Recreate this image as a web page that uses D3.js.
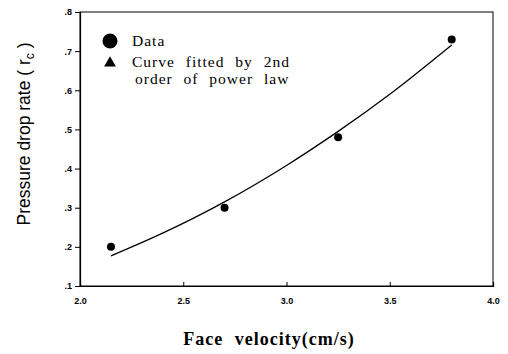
<!DOCTYPE html>
<html><head><meta charset="utf-8">
<script src="https://cdn.jsdelivr.net/npm/d3@7"></script>
<style>body{margin:0;background:#fff}</style>
</head><body>
<svg id="c" width="508" height="354"></svg>
<script>
const dataX = [2.15, 2.7, 3.25, 3.8];
const dataY = [0.20, 0.30, 0.48, 0.73];
const curveX = [2.15, 2.4, 2.7, 3.0, 3.25, 3.5, 3.8];
const curveY = [0.177, 0.235, 0.315, 0.408, 0.495, 0.590, 0.716];
const xTicks = [2.0, 2.5, 3.0, 3.5, 4.0];
const yTicks = [0.1, 0.2, 0.3, 0.4, 0.5, 0.6, 0.7, 0.8];

const svg = d3.select("#c");
const L = 80, R = 493, T = 12, B = 286;
const x = d3.scaleLinear().domain([2.0, 4.0]).range([L, R]);
const y = d3.scaleLinear().domain([0.1, 0.8]).range([B, T]);

// frame
svg.append("rect").attr("x", L).attr("y", T).attr("width", R - L).attr("height", B - T)
  .attr("fill", "none").attr("stroke", "#000").attr("stroke-width", 1);

const yAxis = svg.append("g").attr("transform", `translate(${L},0)`)
  .call(d3.axisLeft(y).tickValues(yTicks).tickSize(5).tickFormat(d => d3.format(".1f")(d).replace(/^0/, "")));
const xAxis = svg.append("g").attr("transform", `translate(0,${B})`)
  .call(d3.axisBottom(x).tickValues(xTicks).tickSize(-4).tickPadding(12).tickFormat(d3.format(".1f")));
[yAxis, xAxis].forEach(g => {
  g.select(".domain").attr("stroke", "#000").attr("stroke-width", 1.2);
  g.selectAll("text").attr("font-family", "Liberation Sans, Arial, sans-serif")
    .attr("font-size", 9).attr("font-weight", "bold").attr("fill", "#000");
});

// curve
const line = d3.line().x(d => x(d[0])).y(d => y(d[1])).curve(d3.curveMonotoneX);
svg.append("path").datum(curveX.map((v, i) => [v, curveY[i]]))
  .attr("d", line).attr("fill", "none").attr("stroke", "#000").attr("stroke-width", 1.3);

// data points
svg.selectAll("circle.pt").data(dataX.map((v, i) => [v, dataY[i]])).enter()
  .append("circle").attr("class", "pt")
  .attr("cx", d => x(d[0])).attr("cy", d => y(d[1])).attr("r", 4).attr("fill", "#000");

// legend
const serif = "Liberation Serif, Times New Roman, serif";
svg.append("circle").attr("cx", 110).attr("cy", 41).attr("r", 7.5).attr("fill", "#000");
svg.append("path").attr("d", d3.symbol(d3.symbolTriangle, 60)()).attr("transform", "translate(110,63)").attr("fill", "#000");
const lg = [["Data", 132, 46], ["Curve fitted by 2nd", 132, 67], ["order of power law", 135, 84]];
lg.forEach(([t, tx, ty]) => svg.append("text").attr("x", tx).attr("y", ty).text(t)
  .attr("font-family", serif).attr("font-size", 15.5).attr("letter-spacing", 1).attr("word-spacing", 6)
  .attr("fill", "#000"));

// axis labels
svg.append("text").attr("x", 269).attr("y", 345).attr("text-anchor", "middle")
  .attr("font-family", serif).attr("font-weight", "bold").attr("font-size", 18)
  .attr("letter-spacing", 1).attr("word-spacing", 6).text("Face velocity(cm/s)");
const yl = svg.append("text").attr("transform", "translate(30,134) rotate(-90)").attr("text-anchor", "middle")
  .attr("font-family", "Liberation Sans, Arial, sans-serif").attr("font-size", 17.5);
yl.append("tspan").text("Pressure drop rate ( r");
yl.append("tspan").attr("font-size", 12).attr("dy", 4).text("c");
yl.append("tspan").attr("dy", -4).text(" )");
</script>
</body></html>
